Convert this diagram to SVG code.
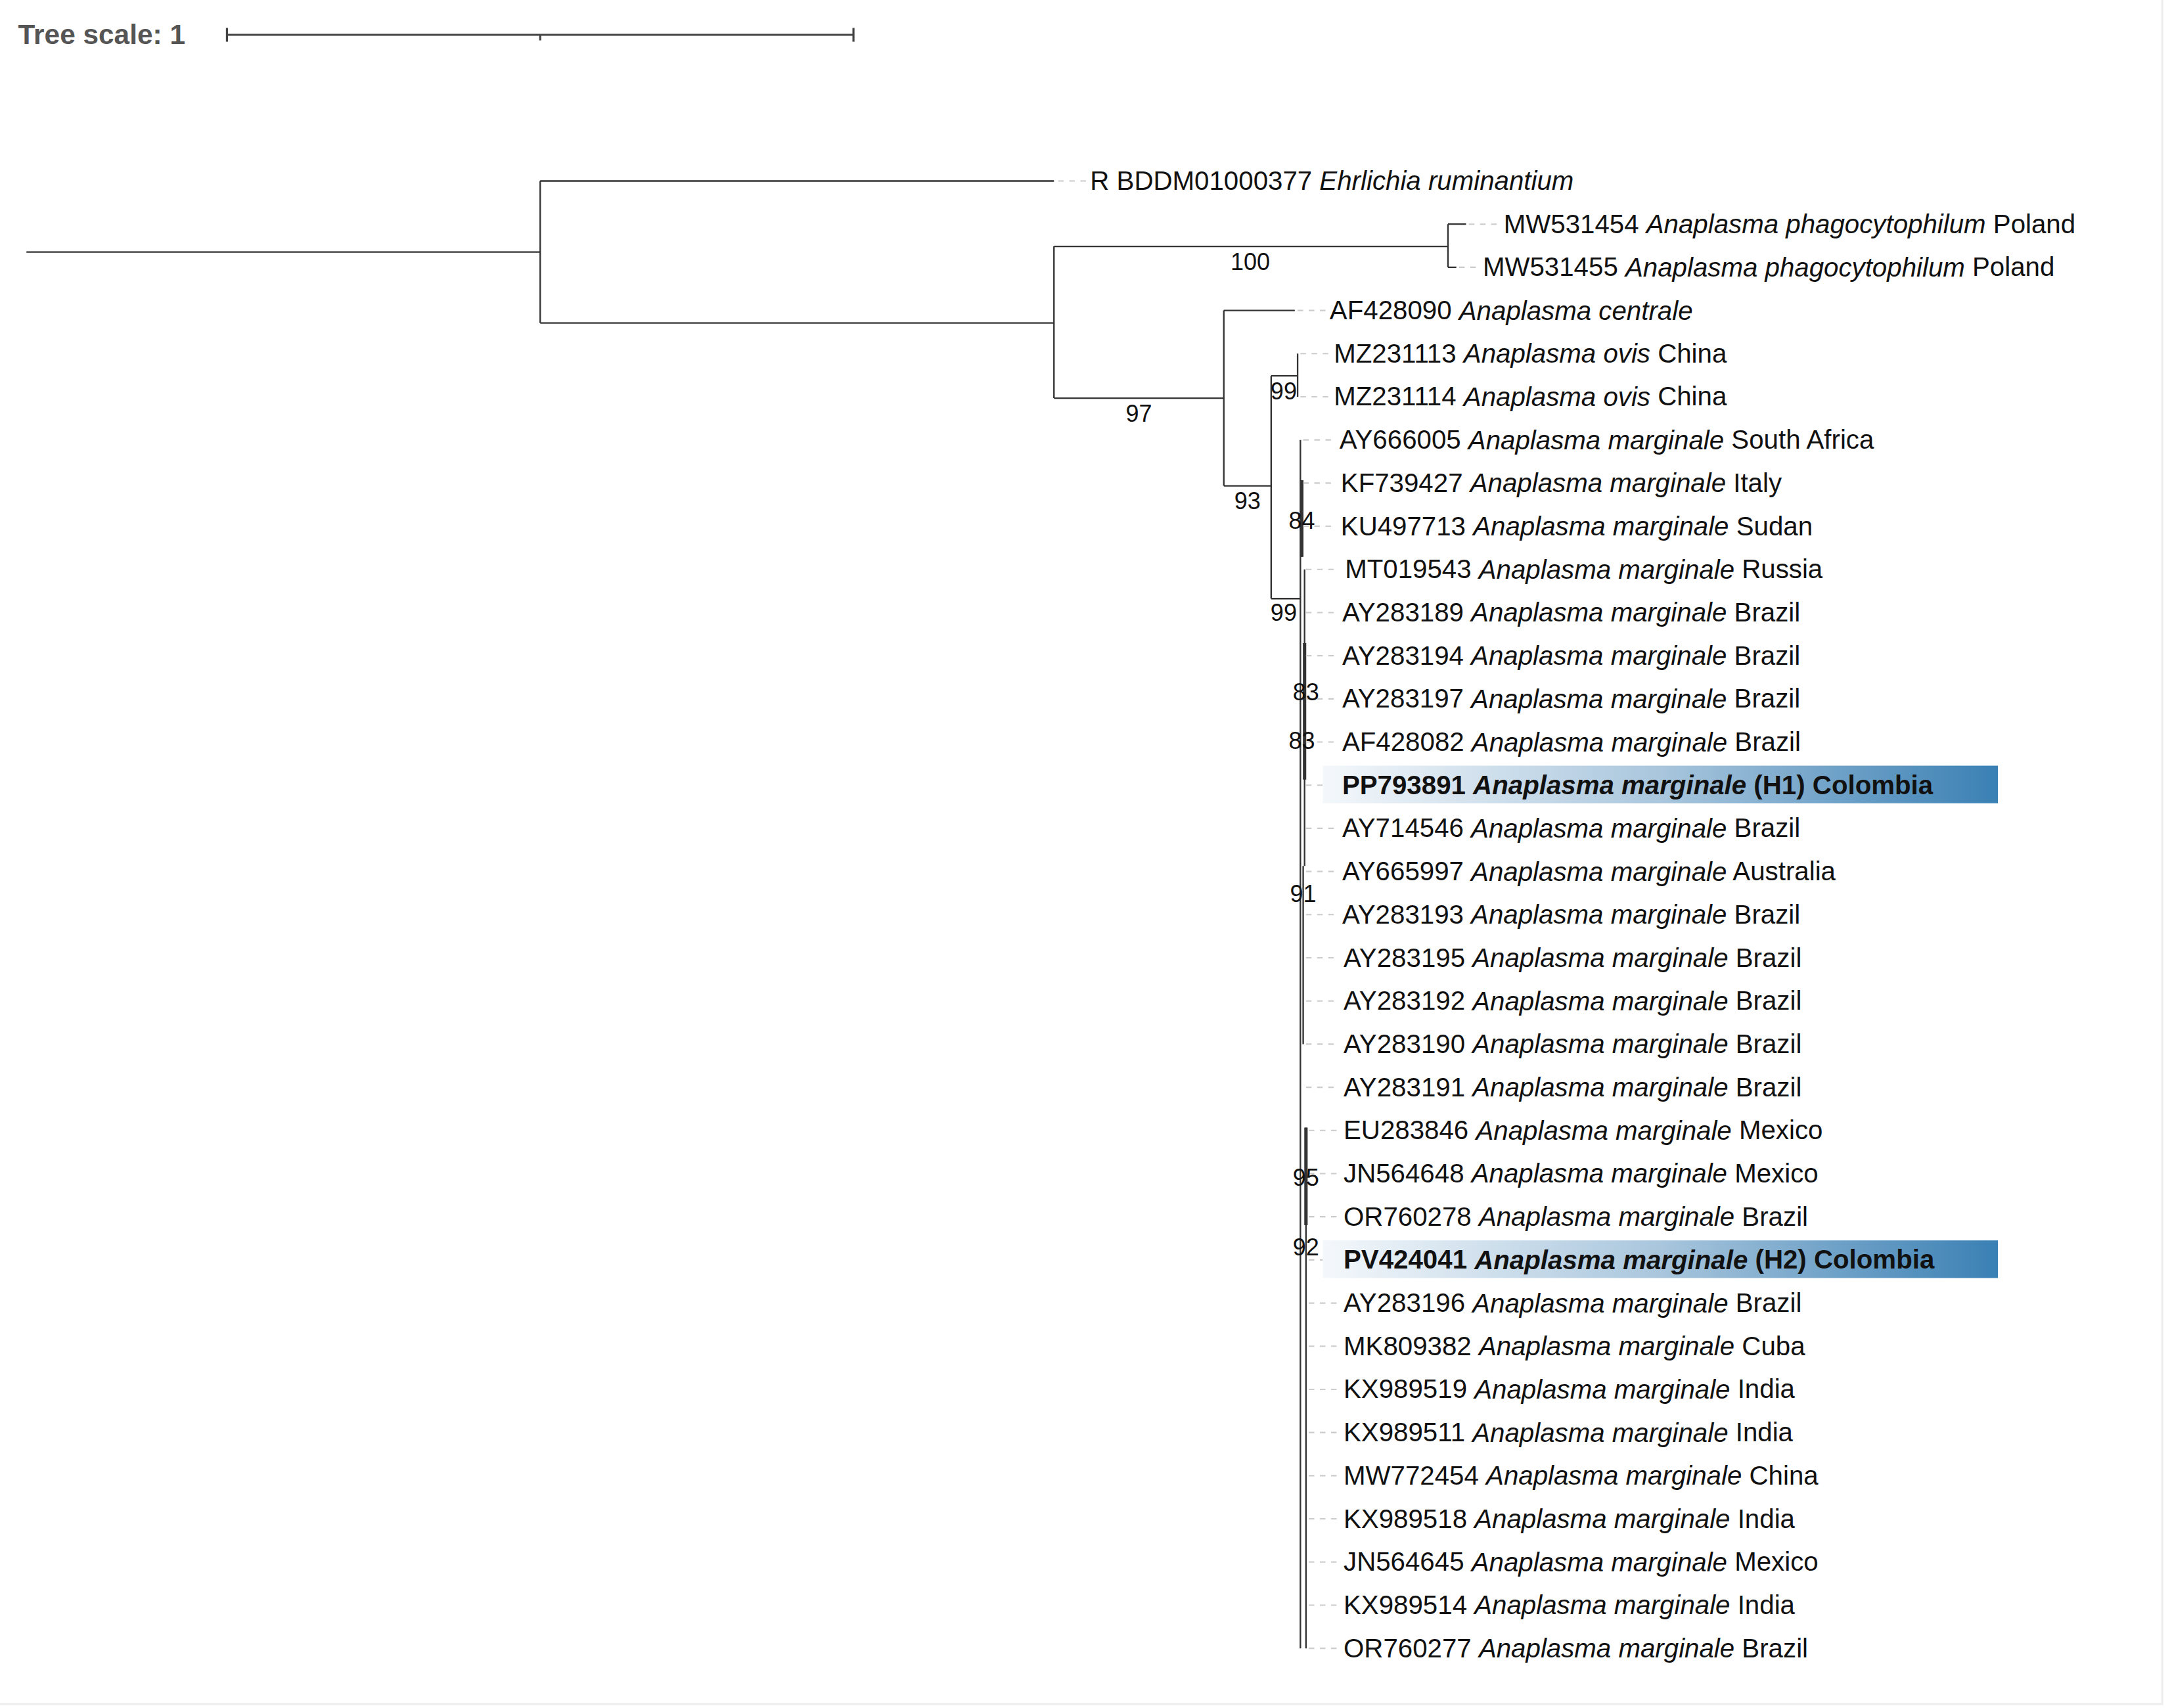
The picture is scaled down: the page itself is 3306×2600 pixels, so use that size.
<svg xmlns="http://www.w3.org/2000/svg" width="3306" height="2600" viewBox="0 0 3306 2600">
<defs>
<linearGradient id="hl" x1="0" x2="1" y1="0" y2="0"><stop offset="0" stop-color="#f4f8fb"/><stop offset="0.5" stop-color="#a9c6dd"/><stop offset="1" stop-color="#3a80b4"/></linearGradient>
<style>
.b{stroke:#333;stroke-width:1.1;fill:none}
.lf{stroke:#ccc;stroke-width:1;stroke-dasharray:4 4;fill:none}
text{font-family:"Liberation Sans",Arial,sans-serif;font-size:19px;fill:#111;dominant-baseline:central}
.bs{font-size:17px;text-anchor:middle}
.hb{font-weight:bold}
</style>
</defs>
<rect width="3306" height="2600" fill="#fff"/>
<g transform="scale(2.1192)">
<g id="scale">
<text x="13" y="25" style="font-weight:bold;fill:#555;font-size:20px">Tree scale: 1</text>
<path class="b" d="M163 25H613M163 20V30M613 20V30M388 25V29" style="stroke:#444;stroke-width:1.5"/>
</g>
<g id="connectors">
<path class="b" d="M19 181H388M388 130V232M388 130H757M388 232H757M757 177V286M757 177H1040M1040 161V192M1040 161H1053M1040 192H1046M757 286H879M879 223V349M879 223H930M879 349H913M913 270V430M913 270H932M932 254V285M913 430H934M934 316V1184M935 345V400M937 409V515M937 462V622M936 622V750M938 810V885M938 885V1184"/>
<path class="b" d="M935 345V400M937 462V560M938 810V880" style="stroke-width:2.4"/>
<path class="lf" d="M760 130H780M1055 161H1077M1048 192H1062M932 223H952M934 254H955M934 285H955M936 316H958M936 347H960M936 378H960M938 409H962M938 440H960M938 471H960M938 502H960M938 533H960M938 564H960M938 595H960M938 626H960M938 657H960M938 688H960M938 719H960M938 750H960M938 781H960M940 812H962M940 843H962M940 874H962M940 905H962M940 936H962M940 967H962M940 998H962M940 1029H962M940 1060H962M940 1091H962M940 1122H962M940 1153H962M940 1184H962"/>
</g>
<g id="bootstrap">
<text class="bs" x="898" y="188">100</text>
<text class="bs" x="818" y="297">97</text>
<text class="bs" x="896" y="360">93</text>
<text class="bs" x="922" y="281">99</text>
<text class="bs" x="922" y="440">99</text>
<text class="bs" x="935" y="374">84</text>
<text class="bs" x="938" y="497">83</text>
<text class="bs" x="935" y="532">83</text>
<text class="bs" x="936" y="642">91</text>
<text class="bs" x="938" y="846">95</text>
<text class="bs" x="938" y="896">92</text>
</g>
<g id="highlights">
<rect x="950" y="550" width="485" height="27" fill="url(#hl)"/>
<rect x="950" y="891" width="485" height="27" fill="url(#hl)"/>
</g>
<g id="leaves">
<text x="783" y="130">R BDDM01000377 <tspan font-style="italic">Ehrlichia ruminantium</tspan></text>
<text x="1080" y="161">MW531454 <tspan font-style="italic">Anaplasma phagocytophilum</tspan> Poland</text>
<text x="1065" y="192">MW531455 <tspan font-style="italic">Anaplasma phagocytophilum</tspan> Poland</text>
<text x="955" y="223">AF428090 <tspan font-style="italic">Anaplasma centrale</tspan></text>
<text x="958" y="254">MZ231113 <tspan font-style="italic">Anaplasma ovis</tspan> China</text>
<text x="958" y="285">MZ231114 <tspan font-style="italic">Anaplasma ovis</tspan> China</text>
<text x="962" y="316">AY666005 <tspan font-style="italic">Anaplasma marginale</tspan> South Africa</text>
<text x="963" y="347">KF739427 <tspan font-style="italic">Anaplasma marginale</tspan> Italy</text>
<text x="963" y="378">KU497713 <tspan font-style="italic">Anaplasma marginale</tspan> Sudan</text>
<text x="966" y="409">MT019543 <tspan font-style="italic">Anaplasma marginale</tspan> Russia</text>
<text x="964" y="440">AY283189 <tspan font-style="italic">Anaplasma marginale</tspan> Brazil</text>
<text x="964" y="471">AY283194 <tspan font-style="italic">Anaplasma marginale</tspan> Brazil</text>
<text x="964" y="502">AY283197 <tspan font-style="italic">Anaplasma marginale</tspan> Brazil</text>
<text x="964" y="533">AF428082 <tspan font-style="italic">Anaplasma marginale</tspan> Brazil</text>
<text class="hb" x="964" y="564">PP793891 <tspan font-style="italic">Anaplasma marginale</tspan> (H1) Colombia</text>
<text x="964" y="595">AY714546 <tspan font-style="italic">Anaplasma marginale</tspan> Brazil</text>
<text x="964" y="626">AY665997 <tspan font-style="italic">Anaplasma marginale</tspan> Australia</text>
<text x="964" y="657">AY283193 <tspan font-style="italic">Anaplasma marginale</tspan> Brazil</text>
<text x="965" y="688">AY283195 <tspan font-style="italic">Anaplasma marginale</tspan> Brazil</text>
<text x="965" y="719">AY283192 <tspan font-style="italic">Anaplasma marginale</tspan> Brazil</text>
<text x="965" y="750">AY283190 <tspan font-style="italic">Anaplasma marginale</tspan> Brazil</text>
<text x="965" y="781">AY283191 <tspan font-style="italic">Anaplasma marginale</tspan> Brazil</text>
<text x="965" y="812">EU283846 <tspan font-style="italic">Anaplasma marginale</tspan> Mexico</text>
<text x="965" y="843">JN564648 <tspan font-style="italic">Anaplasma marginale</tspan> Mexico</text>
<text x="965" y="874">OR760278 <tspan font-style="italic">Anaplasma marginale</tspan> Brazil</text>
<text class="hb" x="965" y="905">PV424041 <tspan font-style="italic">Anaplasma marginale</tspan> (H2) Colombia</text>
<text x="965" y="936">AY283196 <tspan font-style="italic">Anaplasma marginale</tspan> Brazil</text>
<text x="965" y="967">MK809382 <tspan font-style="italic">Anaplasma marginale</tspan> Cuba</text>
<text x="965" y="998">KX989519 <tspan font-style="italic">Anaplasma marginale</tspan> India</text>
<text x="965" y="1029">KX989511 <tspan font-style="italic">Anaplasma marginale</tspan> India</text>
<text x="965" y="1060">MW772454 <tspan font-style="italic">Anaplasma marginale</tspan> China</text>
<text x="965" y="1091">KX989518 <tspan font-style="italic">Anaplasma marginale</tspan> India</text>
<text x="965" y="1122">JN564645 <tspan font-style="italic">Anaplasma marginale</tspan> Mexico</text>
<text x="965" y="1153">KX989514 <tspan font-style="italic">Anaplasma marginale</tspan> India</text>
<text x="965" y="1184">OR760277 <tspan font-style="italic">Anaplasma marginale</tspan> Brazil</text>
</g>
<path d="M0 1224H1553V0" stroke="#eee" stroke-width="1.5" fill="none"/>
</g>
</svg>
